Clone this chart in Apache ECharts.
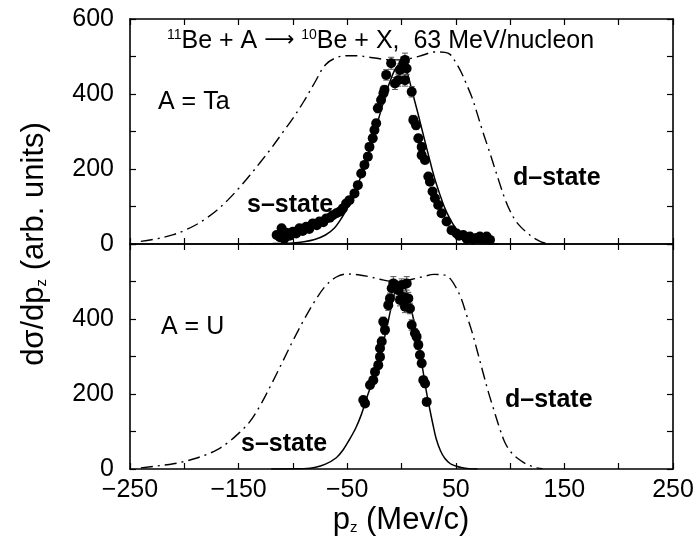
<!DOCTYPE html>
<html>
<head>
<meta charset="utf-8">
<script src="https://cdn.jsdelivr.net/npm/echarts@6/dist/echarts.min.js"></script>
<style>
html,body{margin:0;padding:0;background:#fff;}
#chart{width:698px;height:546px;}
</style>
</head>
<body>
<div id="chart"></div>
<script>
// ---- data (x = p_z in MeV/c, y = dσ/dp_z arb. units) ----
const xLabelValues = [-250, -150, -50, 50, 150, 250];
const yLabelValuesTop = [0, 200, 400, 600];
const yLabelValuesBottom = [0, 200, 400];

// Ta target: d-state (dash-dot), s-state (solid), measured points [x, y, err]
const dStateTa = [[-240,7],[-225,14],[-210,25],[-200,36],[-190,50],[-180,68],[-170,90],[-160,117],[-150,148],[-140,182],[-130,218],[-120,255],[-110,295],[-100,335],[-90,380],[-80,430],[-70,478],[-60,497],[-50,502],[-40,502],[-30,498],[-20,494],[-10,491],[0,491],[10,496],[20,504],[30,512],[40,511],[45,505],[50,484],[55,458],[60,425],[65,390],[70,345],[75,298],[80,255],[85,210],[90,165],[95,122],[100,88],[105,62],[110,45],[115,32],[120,20],[125,11],[130,4],[135,1]];
const sStateTa = [[-140,0],[-120,1],[-100,3],[-90,6],[-80,12],[-70,24],[-62,42],[-55,70],[-50,95],[-45,125],[-40,160],[-35,200],[-30,248],[-25,295],[-20,345],[-15,395],[-10,438],[-5,470],[0,482],[3,475],[6,450],[10,405],[15,350],[20,292],[25,235],[30,180],[35,135],[40,95],[45,65],[50,42],[55,26],[60,15],[65,8],[70,4],[80,1],[90,0]];
const pointsTa = [[-115,24,6],[-112,18,6],[-110.4,42,6],[-108,14,6],[-106,30,6],[-103,22,6],[-100,33,6],[-97,28,6],[-94,42,6],[-91,35,6],[-87.8,46,6],[-85,40,6],[-81.7,55,6],[-78,50,6],[-75.6,60,6],[-72,58,6],[-69.4,68,6],[-66,70,6],[-63.3,77,6],[-60,82,6],[-57.1,86,6],[-54,95,6],[-51,108,8],[-47.9,117,8],[-43.3,135,8],[-40.2,157,8],[-37.1,188,8],[-34.1,211,8],[-31,233,10],[-29.5,259,10],[-26.5,282,10],[-24.9,304,10],[-23.3,322,10],[-21.8,362,12],[-18.8,384,12],[-16.6,402,12],[-15.7,411,12],[-14.1,451,14],[-9.5,482,16],[-6,428,16],[-3,437,16],[-1.4,464,16],[1.7,482,16],[3.2,491,18],[3.2,437,16],[4.7,468,16],[9.4,406,14],[10.9,331,12],[13.4,317,12],[15.5,282,10],[18.6,259,10],[18.6,237,10],[21.6,224,10],[24.7,180,8],[26.2,166,8],[28.6,140,8],[30.8,122,8],[33.8,104,8],[36.9,82,6],[41.5,60,6],[46.1,37,6],[50.8,28,6],[53,22,6],[56.9,24,6],[60,14,6],[63,20,6],[66,12,6],[69,16,6],[72.2,20,6],[75,12,6],[78.4,20,6],[81.5,11,6]];

// U target
const dStateU = [[-240,3],[-225,8],[-210,14],[-200,20],[-190,28],[-180,38],[-170,51],[-160,70],[-150,95],[-140,125],[-130,170],[-120,225],[-110,283],[-100,342],[-90,397],[-80,447],[-70,488],[-60,512],[-50,520],[-40,518],[-30,513],[-20,506],[-10,501],[0,501],[10,506],[20,513],[30,519],[40,517],[45,507],[50,485],[55,455],[60,410],[65,365],[70,312],[75,258],[80,205],[85,158],[90,112],[95,72],[100,48],[105,33],[110,22],[115,13],[120,7],[125,3],[130,1]];
const sStateU = [[-120,0],[-100,0.5],[-90,1],[-80,4],[-70,13],[-60,30],[-54,50],[-48,78],[-42,110],[-37,145],[-32,190],[-27,232],[-22,280],[-18,325],[-14,370],[-10,425],[-7,462],[-4,485],[-1,494],[2,490],[5,470],[8,440],[11,400],[14,360],[17,310],[20,258],[23,205],[26,160],[29,118],[32,80],[36,48],[40,28],[45,14],[50,8],[55,4],[62,1],[70,0]];
const pointsU = [[-35.2,184,8],[-33.6,175,8],[-29,224,10],[-26,237,10],[-24.4,259,10],[-21.4,277,10],[-19.8,299,10],[-19.8,322,12],[-18.2,340,12],[-16.8,393,12],[-15.2,371,12],[-12.2,437,14],[-10.6,455,14],[-9,482,16],[-7.5,495,18],[-2.9,477,16],[-1.4,451,16],[0.2,491,16],[1.7,459,16],[4.8,495,18],[6.3,455,16],[3.2,433,16],[7.8,428,14],[9.4,384,14],[12.4,362,12],[13.9,353,12],[15.5,331,12],[17,304,10],[18.6,282,10],[20.1,237,10],[21.7,228,10],[23.2,179,8]];

// ---- chart ----
const FONT = '"Liberation Sans", Arial, Helvetica, sans-serif';
const chart = echarts.init(document.getElementById('chart'), null, {renderer: 'canvas'});

function xAxisDef(grid, pos, labels) {
  return {
    type: 'value', gridIndex: grid, position: pos, min: -250, max: 250, interval: 50,
    axisLine: {show: true, onZero: false, lineStyle: {color: '#000', width: 1.6}},
    axisTick: {show: true, inside: true, length: 6, lineStyle: {color: '#000', width: 1.2}},
    axisLabel: {show: labels, margin: 9, fontSize: 25, color: '#000', fontFamily: FONT,
      formatter: v => xLabelValues.includes(v) ? String(v).replace('-', '\u2212') : ''},
    splitLine: {show: false}
  };
}
function yAxisDef(grid, pos, labelVals) {
  return {
    type: 'value', gridIndex: grid, position: pos, min: 0, max: 600, interval: 100,
    axisLine: {show: true, onZero: false, lineStyle: {color: '#000', width: 1.6}},
    axisTick: {show: true, inside: true, length: 6, lineStyle: {color: '#000', width: 1.2}},
    axisLabel: {show: !!labelVals, margin: 16, fontSize: 25, color: '#000', fontFamily: FONT,
      formatter: v => (labelVals && labelVals.includes(v)) ? String(v) : ''},
    splitLine: {show: false}
  };
}

const dashDot = [12, 5, 2, 5];
function curve(data, xi, yi, dashed) {
  return {
    type: 'line', data: data, xAxisIndex: xi, yAxisIndex: yi, smooth: 0.35,
    showSymbol: false, symbol: 'none', silent: true, animation: false,
    lineStyle: {color: '#000', width: dashed ? 1.4 : 1.5, type: dashed ? dashDot : 'solid'},
    z: 2
  };
}
function points(data, xi, yi) {
  return {
    type: 'scatter', data: data.map(d => [d[0], d[1]]), xAxisIndex: xi, yAxisIndex: yi,
    symbol: 'circle', symbolSize: 10, itemStyle: {color: '#000', opacity: 1}, animation: false, z: 4
  };
}
function errorBars(data, xi, yi) {
  return {
    type: 'custom', xAxisIndex: xi, yAxisIndex: yi, animation: false, z: 3,
    data: data,
    encode: {x: 0, y: [1]},
    renderItem: function (params, api) {
      const x = api.value(0), y = api.value(1), e = api.value(2);
      const hi = api.coord([x, y + e]);
      const lo = api.coord([x, y - e]);
      const st = {stroke: '#555', lineWidth: 1};
      return {type: 'group', children: [
        {type: 'line', shape: {x1: hi[0], y1: hi[1], x2: lo[0], y2: lo[1]}, style: st},
        {type: 'line', shape: {x1: hi[0]-3, y1: hi[1], x2: hi[0]+3, y2: hi[1]}, style: st},
        {type: 'line', shape: {x1: lo[0]-3, y1: lo[1], x2: lo[0]+3, y2: lo[1]}, style: st}
      ]};
    }
  };
}

const txt = (x, y, text, size, bold, extra) => ({
  type: 'text', x: x, y: y, silent: true,
  style: Object.assign({text: text, fontSize: size, fontWeight: bold ? 'bold' : 'normal',
    fontFamily: FONT, fill: '#000', align: 'left', verticalAlign: 'middle'}, extra || {})
});

const option = {
  backgroundColor: '#fff',
  animation: false,
  grid: [
    {left: 130, top: 19, width: 543, height: 225, containLabel: false},
    {left: 130, top: 244, width: 543, height: 225, containLabel: false}
  ],
  xAxis: [
    xAxisDef(0, 'bottom', false), xAxisDef(0, 'top', false),
    xAxisDef(1, 'bottom', true), xAxisDef(1, 'top', false)
  ],
  yAxis: [
    yAxisDef(0, 'left', yLabelValuesTop), yAxisDef(0, 'right', null),
    yAxisDef(1, 'left', yLabelValuesBottom), yAxisDef(1, 'right', null)
  ],
  series: [
    curve(dStateTa, 0, 0, true), curve(sStateTa, 0, 0, false),
    errorBars(pointsTa, 0, 0), points(pointsTa, 0, 0),
    curve(dStateU, 2, 2, true), curve(sStateU, 2, 2, false),
    errorBars(pointsU, 2, 2), points(pointsU, 2, 2)
  ],
  graphic: [
    txt(167, 41, '{sup|11}Be + A {arr|\u27f6} {sup|10}Be + X,  63 MeV/nucleon', 25, false, {
      rich: {
        sup: {fontSize: 14, fontFamily: FONT, verticalAlign: 'top', lineHeight: 26, padding: [0, 0, 8, 0]},
        arr: {fontSize: 21, fontFamily: '"DejaVu Sans", sans-serif'}
      }
    }),
    txt(158, 102, 'A = Ta', 25, false),
    txt(161, 327, 'A = U', 25, false),
    txt(247, 205, 's\u2013state', 25, true),
    txt(513, 178, 'd\u2013state', 25, true),
    txt(241, 444, 's\u2013state', 25, true),
    txt(505, 400, 'd\u2013state', 25, true),
    txt(401, 520, 'p{sub|z} (Mev/c)', 31, false, {align: 'center',
      rich: {sub: {fontSize: 15, fontFamily: FONT, verticalAlign: 'bottom', lineHeight: 12}}}),
    {type: 'text', x: 34, y: 244, rotation: Math.PI / 2, silent: true,
      style: {text: 'd\u03c3/dp{sub|z} (arb. units)', fontSize: 31, fontFamily: FONT, fill: '#000',
        align: 'center', verticalAlign: 'middle',
        rich: {sub: {fontSize: 15, fontFamily: FONT, verticalAlign: 'bottom', lineHeight: 12}}}}
  ]
};
chart.setOption(option);
</script>
</body>
</html>
